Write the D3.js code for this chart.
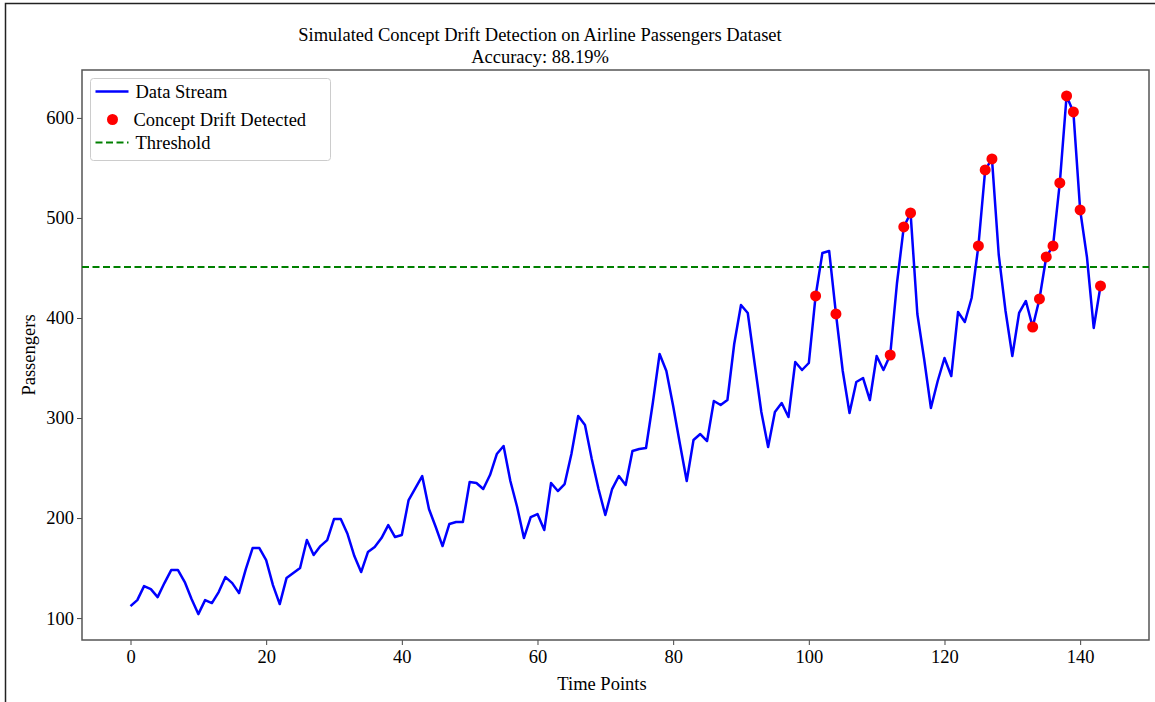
<!DOCTYPE html>
<meta charset="utf-8">
<script src="https://cdn.jsdelivr.net/npm/d3@7"></script>
<style>
  body { margin: 0; background: #fff; }
  text { font-family: "Liberation Serif", "Times New Roman", serif; }
</style>
<div id="chart"></div>
<script>
// monthly airline passengers (thousands), 1949-1960
var passengers = [
  112, 118, 132, 129, 121, 135, 148, 148, 136, 119, 104, 118,
  115, 126, 141, 135, 125, 149, 170, 170, 158, 133, 114, 140,
  145, 150, 178, 163, 172, 178, 199, 199, 184, 162, 146, 166,
  171, 180, 193, 181, 183, 218, 230, 242, 209, 191, 172, 194,
  196, 196, 236, 235, 229, 243, 264, 272, 237, 211, 180, 201,
  204, 188, 235, 227, 234, 264, 302, 293, 259, 229, 203, 229,
  242, 233, 267, 269, 270, 315, 364, 347, 312, 274, 237, 278,
  284, 277, 317, 313, 318, 374, 413, 405, 355, 306, 271, 306,
  315, 301, 356, 348, 355, 422, 465, 467, 404, 347, 305, 336,
  340, 318, 362, 348, 363, 435, 491, 505, 404, 359, 310, 337,
  360, 342, 406, 396, 420, 472, 548, 559, 463, 407, 362, 405,
  417, 391, 419, 461, 472, 535, 622, 606, 508, 461, 390, 432
];
var driftIdx = [101, 104, 112, 114, 115, 125, 126, 127, 133, 134, 135, 136, 137, 138, 139, 140, 143];
var threshold = 451;
var xTicks = [0, 20, 40, 60, 80, 100, 120, 140];
var yTicks = [100, 200, 300, 400, 500, 600];

var W = 1155, H = 702;
var FS = 18.5;
var margin = {top: 70, right: 6, bottom: 62, left: 82};
var width = W - margin.left - margin.right,
    height = H - margin.top - margin.bottom;

var root = d3.select("#chart").append("svg")
    .attr("width", W).attr("height", H);

// outer frame
root.append("path")
    .attr("d", "M5.5," + H + "V3.5H" + W)
    .attr("fill", "none").attr("stroke", "#222").attr("stroke-width", 1.5);

var svg = root.append("g")
    .attr("transform", "translate(" + margin.left + "," + margin.top + ")");

var n = passengers.length;
var xPad = (n - 1) * 0.05;
var x = d3.scaleLinear().domain([-xPad, n - 1 + xPad]).range([0, width]);
var yMin = d3.min(passengers), yMax = d3.max(passengers), yPad = (yMax - yMin) * 0.05;
var y = d3.scaleLinear().domain([yMin - yPad, yMax + yPad]).range([height, 0]);

// axes
var xAxis = svg.append("g")
    .attr("transform", "translate(0," + height + ")")
    .call(d3.axisBottom(x).tickValues(xTicks).tickSize(5).tickPadding(5).tickSizeOuter(0));
var yAxis = svg.append("g")
    .call(d3.axisLeft(y).tickValues(yTicks).tickSize(5).tickPadding(3).tickSizeOuter(0));
[xAxis, yAxis].forEach(function(a) {
  a.selectAll("text").attr("font-size", FS).attr("fill", "#000")
    .style("font-family", "'Liberation Serif', serif");
  a.selectAll("line").attr("stroke", "#444");
  a.select(".domain").remove();
});

// frame of plot area
svg.append("rect")
    .attr("width", width).attr("height", height)
    .attr("fill", "none").attr("stroke", "#555").attr("stroke-width", 1.5);

// threshold
svg.append("line")
    .attr("x1", 0).attr("x2", width)
    .attr("y1", y(threshold)).attr("y2", y(threshold))
    .attr("stroke", "#008000").attr("stroke-width", 2)
    .attr("stroke-dasharray", "7,3.5");

// data stream
svg.append("path")
    .datum(passengers)
    .attr("fill", "none").attr("stroke", "#0000ff").attr("stroke-width", 2.5)
    .attr("stroke-linejoin", "round")
    .attr("d", d3.line().x(function(d, i) { return x(i); }).y(function(d) { return y(d); }));

// drift markers
svg.selectAll(".drift")
    .data(driftIdx)
    .enter().append("circle")
    .attr("cx", function(d) { return x(d); })
    .attr("cy", function(d) { return y(passengers[d]); })
    .attr("r", 5.5)
    .attr("fill", "#ff0000");

// titles
root.append("text").attr("x", 540).attr("y", 41).attr("text-anchor", "middle")
    .attr("font-size", FS).text("Simulated Concept Drift Detection on Airline Passengers Dataset");
root.append("text").attr("x", 540).attr("y", 63).attr("text-anchor", "middle")
    .attr("font-size", FS).text("Accuracy: 88.19%");
root.append("text").attr("x", 602).attr("y", 690).attr("text-anchor", "middle")
    .attr("font-size", FS).text("Time Points");
root.append("text").attr("transform", "translate(35," + (margin.top + height / 2) + ") rotate(-90)")
    .attr("text-anchor", "middle").attr("font-size", FS).text("Passengers");

// legend
var lg = root.append("g").attr("transform", "translate(90.5,78.5)");
lg.append("rect").attr("width", 240).attr("height", 82).attr("rx", 3)
    .attr("fill", "#fff").attr("fill-opacity", 0.85)
    .attr("stroke", "#ccc").attr("stroke-width", 1);
lg.append("line").attr("x1", 5).attr("x2", 38).attr("y1", 13).attr("y2", 13)
    .attr("stroke", "#0000ff").attr("stroke-width", 2.5);
lg.append("circle").attr("cx", 22).attr("cy", 41).attr("r", 5.5).attr("fill", "#ff0000");
lg.append("line").attr("x1", 5).attr("x2", 38).attr("y1", 64).attr("y2", 64)
    .attr("stroke", "#008000").attr("stroke-width", 2).attr("stroke-dasharray", "7,3.5");
var labels = ["Data Stream", "Concept Drift Detected", "Threshold"];
lg.selectAll(".lbl").data(labels).enter().append("text")
    .attr("x", function(d, i) { return i === 1 ? 43 : 45; })
    .attr("y", function(d, i) { return [19, 47, 70][i]; })
    .attr("font-size", FS).text(function(d) { return d; });
</script>
